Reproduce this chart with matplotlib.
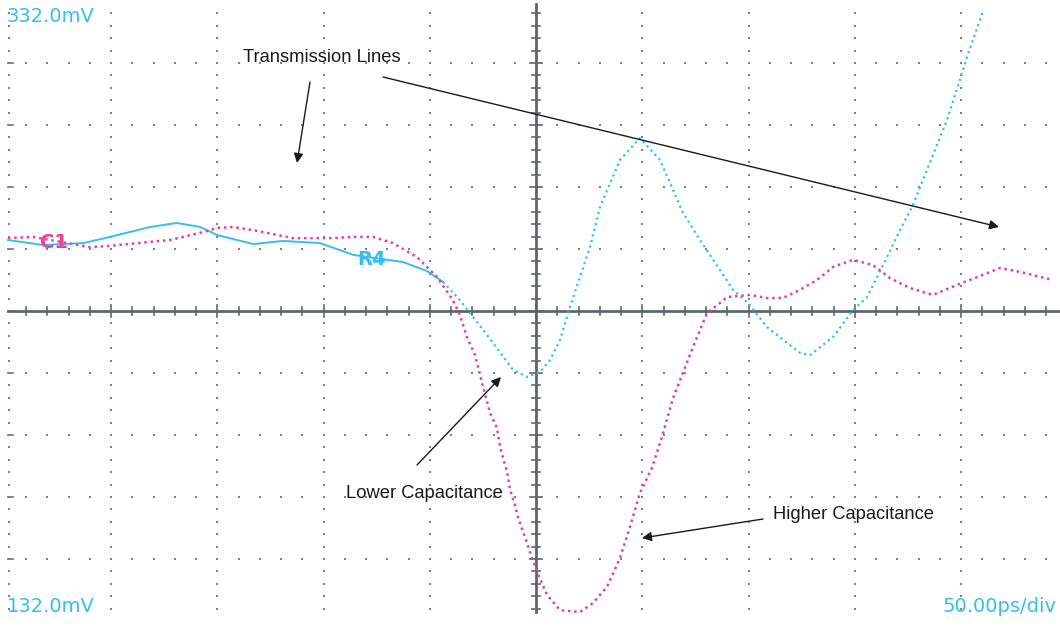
import numpy as np
import matplotlib
matplotlib.use('Agg')
import matplotlib.pyplot as plt

# R4 trace (cyan): time in ps from screen centre, voltage in mV
r4_t = [-248.5, -232.0, -213.0, -200.5, -181.6, -169.0, -158.0, -150.0, -133.0, -119.0,
        -101.6, -86.0, -62.6, -51.3, -43.8, -35.8, -29.6, -20.2, -10.8, -4.2,
        1.9, 6.6, 11.3, 16.0, 20.7, 25.4, 30.1, 39.5, 48.9, 58.4,
        69.2, 77.2, 86.6, 92.7, 99.8, 108.7, 124.2, 129.0, 139.8, 149.2,
        155.8, 165.2, 171.3, 177.4, 182.1, 186.8, 193.4, 199.5, 203.3, 210.4]
r4_v = [254.9, 253.3, 253.9, 255.9, 259.1, 260.4, 259.1, 256.5, 253.6, 254.6,
        253.9, 250.1, 247.8, 244.9, 241.4, 235.5, 230.1, 221.7, 213.0, 210.7,
        212.3, 216.2, 222.6, 233.3, 243.0, 252.6, 265.5, 280.7, 287.8, 280.7,
        263.6, 254.9, 245.2, 238.8, 234.6, 226.8, 218.5, 217.8, 223.6, 232.3,
        236.5, 249.4, 258.1, 266.2, 274.3, 282.3, 293.6, 306.5, 314.9, 328.8]

# C1 trace (magenta)
c1_t = [-248.5, -236.7, -209.9, -200.5, -181.6, -172.2, -158.1, -150.1, -142.6, -133.2,
        -126.6, -114.4, -95.5, -86.1, -76.7, -67.3, -56.0, -46.6, -39.1, -35.8,
        -32.5, -28.7, -24.9, -21.6, -18.4, -16.9, -13.6, -12.2, -9.9, -8.5,
        -5.2, -1.9, 0.5, 5.2, 11.3, 20.7, 26.8, 33.4, 39.5, 44.2,
        48.9, 54.6, 59.3, 64.5, 73.9, 80.5, 86.6, 89.9, 100.7, 108.7,
        116.2, 124.2, 132.2, 139.8, 149.2, 158.6, 166.6, 176.0, 186.8, 198.1,
        207.5, 218.4, 227.8, 243.3]
c1_v = [255.5, 255.9, 252.6, 253.0, 254.3, 254.9, 257.2, 258.8, 259.1, 258.1,
        257.2, 255.5, 255.5, 255.9, 255.9, 253.9, 249.4, 243.0, 235.5, 230.7,
        223.6, 217.8, 207.5, 199.1, 194.3, 188.1, 180.1, 174.3, 169.4, 165.5,
        159.1, 152.3, 147.8, 140.4, 135.5, 134.9, 137.8, 143.0, 152.3, 162.3,
        173.3, 181.4, 191.4, 203.9, 220.4, 231.4, 234.6, 236.5, 237.2, 236.2,
        236.2, 238.8, 242.0, 246.2, 248.5, 246.8, 242.6, 239.4, 237.2, 240.4,
        242.9, 245.9, 244.6, 242.0]

# screen settings
t_per_div = 50.0     # ps/div
v_per_div = 20.0     # mV/div
v_center = 232.0
top_label = '332.0mV'
bottom_label = '132.0mV'
time_label = '50.00ps/div'

CYAN = '#35BFEF'
MAGENTA = '#EC3F95'
GRID = '#808080'
AXIS = '#5c6868'

W, H = 1060, 638


def fig_xy(px, py):
    # pixel position in the picture -> figure fraction
    return px / W, 1 - py / H


fig = plt.figure(figsize=(W / 100, H / 100), dpi=100)
ax = fig.add_axes([0, 0, 1, 1])
ax.set_xlim((0 - 536) / 2.125, (W - 536) / 2.125)
ax.set_ylim(v_center + (311 - H) / 3.1, v_center + 311 / 3.1)
ax.axis('off')

t_left = (8 - 536) / 2.125

# dotted graticule
minor_v = v_center + np.arange(-24, 25) * v_per_div / 5
minor_t = np.arange(-24, 25) * t_per_div / 5
for k in [-4, -3, -2, -1, 1, 2, 3, 4]:
    ax.scatter(np.full(len(minor_v), k * t_per_div), minor_v, s=2.2, marker='s',
               color=GRID, linewidths=0, zorder=1)
    ax.scatter(minor_t, np.full(len(minor_t), v_center + k * v_per_div), s=2.2, marker='s',
               color=GRID, linewidths=0, zorder=1)
# left edge marks
ax.scatter(np.full(len(minor_v), t_left + 0.5), minor_v, s=2.2, marker='s',
           color=GRID, linewidths=0, zorder=1)
for k in range(-4, 5):
    ax.plot([t_left, t_left + 2.5], [v_center + k * v_per_div] * 2, color=GRID, lw=1.3, zorder=1)

# centre cross with tick marks
ax.plot([t_left, 247], [v_center, v_center], color=AXIS, lw=2, zorder=2)
ax.plot([0, 0], [v_center - 4.85 * v_per_div, v_center + 4.95 * v_per_div], color=AXIS, lw=2, zorder=2)
for t in minor_t:
    h = 2.0 if abs(t % t_per_div) < 1e-6 else 1.3
    ax.plot([t, t], [v_center - h, v_center + h], color=AXIS, lw=1.2, zorder=2)
for v in minor_v:
    w = 3.0 if abs((v - v_center) % v_per_div) < 1e-6 else 2.0
    ax.plot([-w, w], [v, v], color=AXIS, lw=1.2, zorder=2)

# traces: flat start of R4 is drawn solid, the fast part as separate samples
r4_t = np.array(r4_t)
r4_v = np.array(r4_v)
solid = r4_t <= -43.8
dots = r4_t >= -43.8
ax.plot(r4_t[solid], r4_v[solid], color=CYAN, lw=1.4, zorder=3)
ax.plot(r4_t[dots], r4_v[dots], color=CYAN, lw=1.6, linestyle=(0, (1, 1.6)), zorder=3)
ax.plot(c1_t, c1_v, color=MAGENTA, lw=1.8, linestyle=(0, (1, 1.5)), zorder=4)

# trace labels
ax.text(*fig_xy(40, 248), 'C1', transform=fig.transFigure, color=MAGENTA,
        fontsize=14, fontweight='bold', ha='left', va='baseline', zorder=5)
ax.text(*fig_xy(357, 265), 'R4', transform=fig.transFigure, color=CYAN,
        fontsize=14, fontweight='bold', ha='left', va='baseline', zorder=5)

# scope readouts
ax.text(*fig_xy(7, 22), top_label, transform=fig.transFigure, color=CYAN,
        fontsize=14, ha='left', va='baseline')
ax.text(*fig_xy(7, 612), bottom_label, transform=fig.transFigure, color=CYAN,
        fontsize=14, ha='left', va='baseline')
ax.text(*fig_xy(942, 612), time_label, transform=fig.transFigure, color=CYAN,
        fontsize=14, ha='left', va='baseline')

# annotations
note_font = dict(family=['Liberation Sans', 'DejaVu Sans'], fontsize=13.2, color='#1a1a1a')
fig.text(*fig_xy(243, 62), 'Transmission Lines', ha='left', va='baseline', **note_font)
fig.text(*fig_xy(346, 498), 'Lower Capacitance', ha='left', va='baseline', **note_font)
fig.text(*fig_xy(773, 519), 'Higher Capacitance', ha='left', va='baseline', **note_font)

arrows = [((310, 82), (297, 163)),
          ((383, 77), (999, 227)),
          ((417, 465), (501, 377)),
          ((763, 519), (642, 538))]
for tail, head in arrows:
    ax.annotate('', xy=fig_xy(*head), xytext=fig_xy(*tail),
                xycoords='figure fraction', textcoords='figure fraction',
                arrowprops=dict(arrowstyle='-|>', color='#1a1a1a', lw=1.0,
                                mutation_scale=14, shrinkA=0, shrinkB=0))

plt.savefig('out.png', dpi=100)
